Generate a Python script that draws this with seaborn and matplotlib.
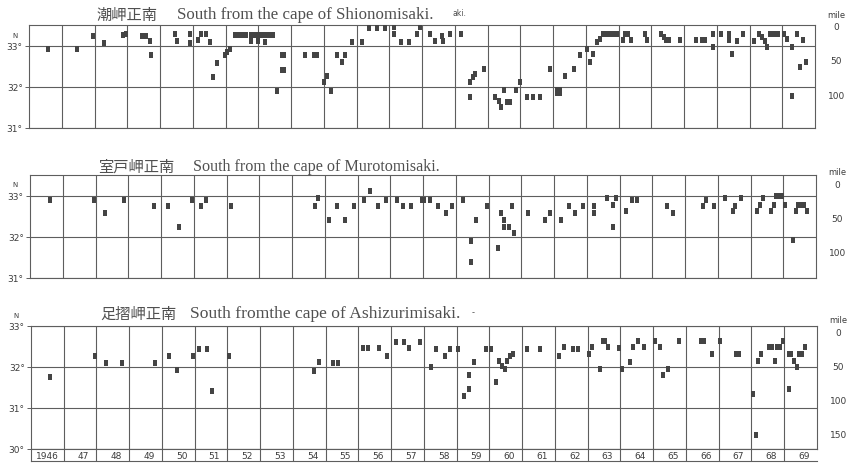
import matplotlib
matplotlib.use("Agg")
import matplotlib.pyplot as plt
import matplotlib.transforms as mtransforms
import pandas as pd
import seaborn as sns

# Monthly position of the Kuroshio axis (latitude, deg N) south of three capes
shiono_year = [
    1946.59, 1947.46, 1947.96, 1948.30, 1948.86, 1948.95,
    1949.46, 1949.58, 1949.68, 1949.72, 1950.46, 1950.51, 1950.92, 1950.92,
    1951.17, 1951.25, 1951.40, 1951.54, 1951.73, 1951.63,
    1951.98, 1952.06, 1952.15,
    1952.29, 1952.38, 1952.46, 1952.54, 1952.63, 1952.79, 1952.88, 1952.96,
    1953.04, 1953.13, 1953.21, 1953.29, 1953.38, 1953.46,
    1952.79, 1953.00, 1953.21, 1953.56, 1953.71, 1953.79, 1953.71, 1953.79,
    1954.44, 1954.69, 1954.79, 1955.40, 1955.64, 1955.56,
    1955.10, 1955.00, 1955.22, 1955.86, 1956.17,
    1956.39, 1956.63, 1956.88, 1957.13, 1957.13, 1957.36, 1957.59,
    1957.85, 1957.95, 1958.23, 1958.41, 1958.61, 1958.64, 1958.87, 1959.19,
    1959.48, 1959.48, 1959.56, 1959.63, 1959.88,
    1960.24, 1960.34, 1960.41, 1960.49, 1960.59, 1960.69, 1960.88, 1960.98,
    1961.20, 1961.38, 1961.61, 1961.90,
    1962.13, 1962.21, 1962.13, 1962.21, 1962.38, 1962.63, 1962.81,
    1963.04, 1963.12, 1963.22, 1963.34, 1963.42,
    1963.54, 1963.63, 1963.71, 1963.79, 1963.88, 1963.96,
    1964.13, 1964.21, 1964.29, 1964.38, 1964.80, 1964.88,
    1965.29, 1965.38, 1965.46, 1965.54, 1965.88,
    1966.38, 1966.54, 1966.63, 1966.88, 1966.88,
    1967.13, 1967.38, 1967.38, 1967.46, 1967.63, 1967.79,
    1968.13, 1968.29, 1968.38, 1968.46, 1968.54,
    1968.63, 1968.71, 1968.79, 1968.88,
    1969.04, 1969.13, 1969.29, 1969.46, 1969.63, 1969.54, 1969.71, 1969.29,
]
shiono_lat = [
    32.92, 32.92, 33.24, 33.06, 33.25, 33.27,
    33.24, 33.24, 33.12, 32.76, 33.27, 33.12, 33.27, 33.06,
    33.14, 33.27, 33.27, 33.08, 32.57, 32.24,
    32.76, 32.84, 32.92,
    33.25, 33.25, 33.25, 33.25, 33.25, 33.25, 33.25, 33.25,
    33.25, 33.25, 33.25, 33.25, 33.25, 33.25,
    33.11, 33.11, 33.08, 31.90, 32.76, 32.76, 32.41, 32.41,
    32.76, 32.76, 32.76, 32.76, 32.76, 32.59,
    32.27, 32.11, 31.90, 33.08, 33.08,
    33.43, 33.43, 33.43, 33.46, 33.28, 33.08, 33.08,
    33.28, 33.46, 33.28, 33.10, 33.24, 33.10, 33.27, 33.27,
    31.76, 32.11, 32.23, 32.31, 32.43,
    31.76, 31.66, 31.50, 31.92, 31.63, 31.63, 31.92, 32.11,
    31.76, 31.76, 31.76, 32.43,
    31.92, 31.92, 31.85, 31.85, 32.27, 32.43, 32.76,
    32.92, 32.59, 32.80, 33.08, 33.16,
    33.27, 33.27, 33.27, 33.27, 33.27, 33.27,
    33.14, 33.27, 33.27, 33.14, 33.27, 33.14,
    33.28, 33.20, 33.14, 33.14, 33.14,
    33.14, 33.14, 33.14, 33.28, 32.96,
    33.28, 33.28, 33.14, 32.80, 33.12, 33.28,
    33.12, 33.28, 33.20, 33.10, 32.96,
    33.28, 33.28, 33.28, 33.28,
    33.28, 33.16, 32.96, 33.28, 33.14, 32.47, 32.59, 31.78,
]

muroto_year = [
    1946.62, 1947.96, 1948.29, 1948.88, 1949.79, 1950.21, 1950.54,
    1950.96, 1951.21, 1951.38, 1952.13,
    1954.71, 1954.79, 1955.13, 1955.38, 1955.63, 1955.88,
    1956.21, 1956.38, 1956.63, 1956.88, 1957.21, 1957.38, 1957.63,
    1957.96, 1958.04, 1958.21, 1958.46, 1958.71, 1958.88,
    1959.21, 1959.46, 1959.46, 1959.63, 1959.96,
    1960.29, 1960.38, 1960.46, 1960.46, 1960.63, 1960.71, 1960.79,
    1961.21, 1961.71, 1961.88, 1962.21, 1962.46, 1962.63, 1962.88,
    1963.21, 1963.21, 1963.63, 1963.88, 1963.79, 1963.79,
    1964.21, 1964.38, 1964.54, 1965.46, 1965.63,
    1966.54, 1966.63, 1966.88, 1967.21, 1967.46, 1967.54, 1967.71,
    1968.21, 1968.29, 1968.38, 1968.63, 1968.71, 1968.79, 1968.88,
    1968.96, 1969.04, 1969.29,
    1969.38, 1969.46, 1969.54, 1969.63, 1969.71,
]
muroto_lat = [
    32.90, 32.90, 32.58, 32.90, 32.74, 32.74, 32.23,
    32.90, 32.74, 32.90, 32.74,
    32.74, 32.93, 32.41, 32.74, 32.41, 32.74,
    32.90, 33.11, 32.74, 32.90, 32.90, 32.74, 32.74,
    32.90, 32.90, 32.90, 32.74, 32.58, 32.74,
    32.90, 31.89, 31.40, 32.41, 32.74,
    31.74, 32.58, 32.41, 32.25, 32.25, 32.74, 32.09,
    32.58, 32.41, 32.58, 32.41, 32.74, 32.58, 32.74,
    32.74, 32.58, 32.94, 32.94, 32.78, 32.25,
    32.62, 32.90, 32.90, 32.74, 32.58,
    32.74, 32.90, 32.74, 32.94, 32.62, 32.74, 32.94,
    32.62, 32.78, 32.94, 32.62, 32.78, 32.98, 32.98,
    32.98, 32.78, 31.93,
    32.62, 32.78, 32.78, 32.78, 32.62,
]

ashizuri_year = [
    1946.59, 1947.96, 1948.29, 1948.79, 1949.79,
    1950.21, 1950.46, 1950.96, 1951.13, 1951.38, 1951.54, 1952.04,
    1954.63, 1954.79, 1955.21, 1955.38,
    1956.13, 1956.29, 1956.63, 1956.88, 1957.13, 1957.38, 1957.54, 1957.88,
    1958.21, 1958.38, 1958.63, 1958.79, 1959.04,
    1959.21, 1959.38, 1959.38, 1959.54, 1959.88, 1960.04,
    1960.21, 1960.29, 1960.38, 1960.46, 1960.54, 1960.63, 1960.71,
    1961.13, 1961.54,
    1962.13, 1962.29, 1962.54, 1962.71,
    1963.04, 1963.13, 1963.38, 1963.46, 1963.54, 1963.63, 1963.96,
    1964.04, 1964.29, 1964.38, 1964.54, 1964.71,
    1965.04, 1965.21, 1965.29, 1965.46, 1965.79,
    1966.46, 1966.54, 1966.79, 1967.04, 1967.54, 1967.63,
    1968.04, 1968.13,
    1968.21, 1968.29, 1968.54, 1968.63, 1968.71, 1968.79, 1968.88, 1968.96,
    1969.13, 1969.21, 1969.29, 1969.38, 1969.13, 1969.46, 1969.54, 1969.63,
]
ashizuri_lat = [
    31.76, 32.26, 32.10, 32.10, 32.10,
    32.26, 31.93, 32.26, 32.44, 32.44, 31.42, 32.26,
    31.91, 32.13, 32.10, 32.10,
    32.46, 32.46, 32.46, 32.28, 32.62, 32.62, 32.46, 32.62,
    31.99, 32.44, 32.26, 32.44, 32.44,
    31.30, 31.46, 31.80, 32.11, 32.44, 32.44,
    31.63, 32.15, 32.03, 31.95, 32.15, 32.28, 32.32,
    32.44, 32.44,
    32.28, 32.48, 32.44, 32.44,
    32.32, 32.48, 31.95, 32.64, 32.64, 32.48, 32.46,
    31.95, 32.13, 32.48, 32.64, 32.48,
    32.64, 32.48, 31.80, 31.95, 32.64,
    32.64, 32.64, 32.32, 32.64, 32.32, 32.32,
    31.34, 30.33,
    32.15, 32.32, 32.48, 32.48, 32.15, 32.48, 32.48, 32.64,
    32.32, 32.32, 32.15, 31.99, 31.46, 32.32, 32.32, 32.48,
]

year_labels = ["1946"] + [f"{y % 100:02d}" for y in range(1947, 1970)]

# ---------------------------------------------------------------------------
W, H = 848, 464
INK = "#444444"
GRID = "#5e5e5e"
TXT = "#3c3c3c"

sns.set_theme(style="white")
plt.rcParams["font.family"] = ["DejaVu Sans", "Noto Sans CJK JP"]

fig = plt.figure(figsize=(W / 100, H / 100), dpi=100)
fig.patch.set_facecolor("white")


def rect(l, t, r, b):
    return [l / W, 1 - b / H, (r - l) / W, (b - t) / H]


def px(x, y):
    return x / W, 1 - y / H


# small upright bar marker: about one month wide, a tenth of a degree tall
bar_marker = [(-0.27, -0.5), (0.27, -0.5), (0.27, 0.5), (-0.27, 0.5)]

panels = [
    dict(year=shiono_year, lat=shiono_lat, box=(29, 26, 815, 129), ylim=(31, 33.5),
         lats=[33, 32, 31], lat0=33.46, miles=[0, 50, 100],
         jp="潮岬正南", jp_xy=(97, 15), en="South from the cape of Shionomisaki.",
         en_xy=(177, 15), en_size=12.2, n_xy=(15, 36)),
    dict(year=muroto_year, lat=muroto_lat, box=(30, 176, 816, 279), ylim=(31, 33.5),
         lats=[33, 32, 31], lat0=33.28, miles=[0, 50, 100],
         jp="室戸岬正南", jp_xy=(98, 167), en="South from the cape of Murotomisaki.",
         en_xy=(193, 167), en_size=11.6, n_xy=(15, 185)),
    dict(year=ashizuri_year, lat=ashizuri_lat, box=(31, 327, 817, 450), ylim=(30, 33),
         lats=[33, 32, 31, 30], lat0=32.85, miles=[0, 50, 100, 150],
         jp="足摺岬正南", jp_xy=(100, 314), en="South fromthe cape of Ashizurimisaki.",
         en_xy=(190, 314), en_size=12.6, n_xy=(16, 316)),
]

axes = []
for p in panels:
    ax = fig.add_axes(rect(*p["box"]))
    axes.append(ax)
    df = pd.DataFrame({"year": p["year"], "lat": p["lat"]})

    # grid of years and whole degrees
    for yr in range(1947, 1970):
        ax.axvline(yr, color=GRID, lw=0.8, zorder=1)
    for la in p["lats"]:
        ax.axhline(la, color=GRID, lw=0.8, zorder=1)

    sns.scatterplot(data=df, x="year", y="lat", ax=ax, marker=bar_marker, s=18,
                    color=INK, linewidth=0, legend=False, zorder=3)

    ax.set_xlim(1946, 1970)
    ax.set_ylim(*p["ylim"])
    ax.set_xlabel("")
    ax.set_ylabel("")
    ax.set_xticks([])
    ax.set_yticks(p["lats"])
    ax.set_yticklabels([f"{la}°" for la in p["lats"]])
    ax.tick_params(axis="y", left=True, direction="out", length=3, width=0.7,
                   color=GRID, pad=1.5, labelsize=6.5, labelcolor=TXT)
    for s in ax.spines.values():
        s.set_color(GRID)
        s.set_linewidth(0.8)

    # distance from the cape in nautical miles (1 deg = 60 miles)
    tr = mtransforms.blended_transform_factory(ax.transAxes, ax.transData)
    for m in p["miles"]:
        ax.text(1.027, p["lat0"] - m / 60.0, str(m), transform=tr, ha="center",
                va="center", fontsize=6.5, color=TXT, clip_on=False)
    ax.text(1.027, p["lat0"] + 0.3, "mile", transform=tr, ha="center", va="center",
            fontsize=6, color=TXT, clip_on=False)

    fig.text(*px(*p["n_xy"]), "N", fontsize=5, color=TXT, ha="center", va="center")
    fig.text(*px(*p["jp_xy"]), p["jp"], family=["Noto Sans CJK JP"], fontsize=11,
             color="#505050", ha="left", va="center")
    fig.text(*px(*p["en_xy"]), p["en"], family=["Liberation Serif"],
             fontsize=p["en_size"], color="#505050", ha="left", va="center")

fig.text(*px(452, 14), "aki.", fontsize=5.5, color="#505050", ha="left", va="center")
fig.text(*px(472, 313), "-", fontsize=6, color="#505050", ha="left", va="center")

# year strip under the lowest panel
strip = fig.add_axes(rect(31, 450, 817, 462), sharex=axes[2])
strip.set_ylim(0, 1)
for yr in range(1947, 1970):
    strip.axvline(yr, color=GRID, lw=0.8)
for i, lab in enumerate(year_labels):
    xc = 1946.5 if i == 0 else 1946 + i + 0.6
    strip.text(xc, 0.45, lab, ha="center", va="center", fontsize=6.5, color=TXT)
strip.set_xticks([])
strip.set_yticks([])
for s in strip.spines.values():
    s.set_color(GRID)
    s.set_linewidth(0.8)
strip.spines["right"].set_visible(False)

fig.savefig("out.png", dpi=100, facecolor="white")
